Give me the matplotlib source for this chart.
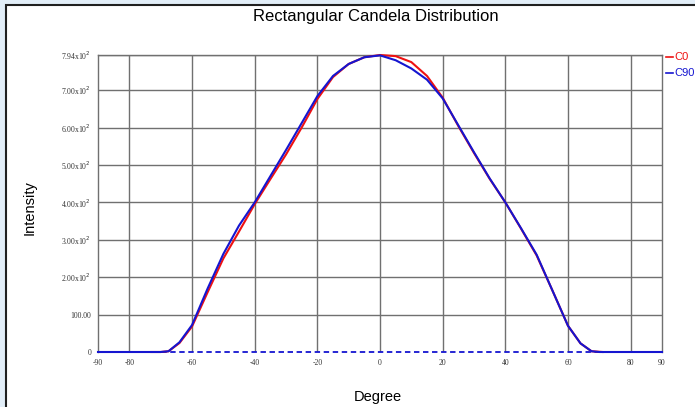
import matplotlib
matplotlib.use("Agg")
from matplotlib import pyplot as plt
from matplotlib.patches import Rectangle
from matplotlib.lines import Line2D

# C0 plane (red)
c0_deg = [-73, -70, -67.5, -64, -60, -55, -50, -45, -40, -35, -30, -25, -20, -15, -10, -5,
          0, 5, 10, 15, 20, 25, 30, 35, 40, 45, 50, 55, 60, 64, 67.5, 71]
c0_val = [0, 0, 2, 24, 68, 160, 250, 322, 395, 462, 528, 600, 676, 735, 770, 788,
          794, 791, 775, 738, 680, 604, 532, 463, 400, 330, 258, 165, 70, 23, 2, 0]

# C90 plane (blue)
c90_deg = [-90, -85, -80, -75, -70, -67.5, -64, -60, -55, -50, -45, -40, -35, -30, -25, -20,
           -15, -10, -5, 0, 5, 10, 15, 20, 25, 30, 35, 40, 45, 50, 55, 60, 64, 67.5, 70,
           75, 80, 85, 90]
c90_val = [0, 0, 0, 0, 0, 2, 26, 72, 170, 262, 338, 400, 470, 540, 612, 684,
           738, 770, 788, 793, 780, 758, 728, 678, 606, 534, 464, 400, 331, 260, 165, 70, 23, 2, 0,
           0, 0, 0, 0]

x_ticks = [-90, -80, -60, -40, -20, 0, 20, 40, 60, 80, 90]
y_ticks = [0, 100, 200, 300, 400, 500, 600, 700, 794]
y_labels = ["0", "100.00", r"2.00x10$^{2}$", r"3.00x10$^{2}$", r"4.00x10$^{2}$",
            r"5.00x10$^{2}$", r"6.00x10$^{2}$", r"7.00x10$^{2}$", r"7.94x10$^{2}$"]

W, H = 695, 407
fig = plt.figure(figsize=(W / 100, H / 100), dpi=100, facecolor="#e2eef8")
# white panel with dark border
fig.patches.append(Rectangle((6 / W, -0.05), 1.2, (H - 5) / H + 0.05, transform=fig.transFigure,
                             facecolor="white", edgecolor="#202020", linewidth=1.5, zorder=-5))

ax = fig.add_axes([98 / W, 55 / H, 564 / W, 297 / H])
ax.set_facecolor("white")
ax.set_xlim(-90, 90)
ax.set_ylim(0, 794)

grid_c = "#707070"
for x in [-80, -60, -40, -20, 0, 20, 40, 60, 80]:
    ax.axvline(x, color=grid_c, lw=1.0, zorder=1)
for y in y_ticks[1:]:
    ax.axhline(y, color=grid_c, lw=1.0, zorder=1)
for s in ax.spines.values():
    s.set_color(grid_c)
    s.set_linewidth(1.0)
ax.spines["bottom"].set_visible(False)

ax.axhline(0, color="#1515d0", lw=1.3, ls=(0, (3, 2)), zorder=2, clip_on=False)
ax.plot(c0_deg, c0_val, color="#ee1111", lw=1.5, zorder=3, clip_on=False)
ax.plot(c90_deg, c90_val, color="#1515d0", lw=1.5, zorder=4, clip_on=False)

ax.set_xticks(x_ticks)
ax.set_xticklabels([str(v) for v in x_ticks])
ax.set_yticks(y_ticks)
ax.set_yticklabels(y_labels)
ax.tick_params(length=0, pad=5, labelsize=5.5, labelcolor="#333333")
for lab in ax.get_xticklabels() + ax.get_yticklabels():
    lab.set_family("Liberation Serif")

fig.text(376 / W, 1 - 16 / H, "Rectangular Candela Distribution", ha="center", va="center",
         fontsize=12, family="Liberation Sans")
fig.text(30 / W, 1 - 208 / H, "Intensity", rotation=90, ha="center", va="center",
         fontsize=10.5, family="Liberation Sans")
fig.text(378 / W, 1 - 397 / H, "Degree", ha="center", va="center",
         fontsize=10.5, family="Liberation Sans")

# legend at the right edge
for i, (name, col) in enumerate([("C0", "#ee1111"), ("C90", "#1515d0")]):
    yy = 1 - (57 + 16 * i) / H
    fig.lines.append(Line2D([666 / W, 673 / W], [yy, yy], transform=fig.transFigure, color=col, lw=1.2))
    fig.text(674 / W, yy, name, color=col, ha="left", va="center", fontsize=8, family="Liberation Sans")

fig.savefig("out.png", dpi=100, facecolor=fig.get_facecolor())
